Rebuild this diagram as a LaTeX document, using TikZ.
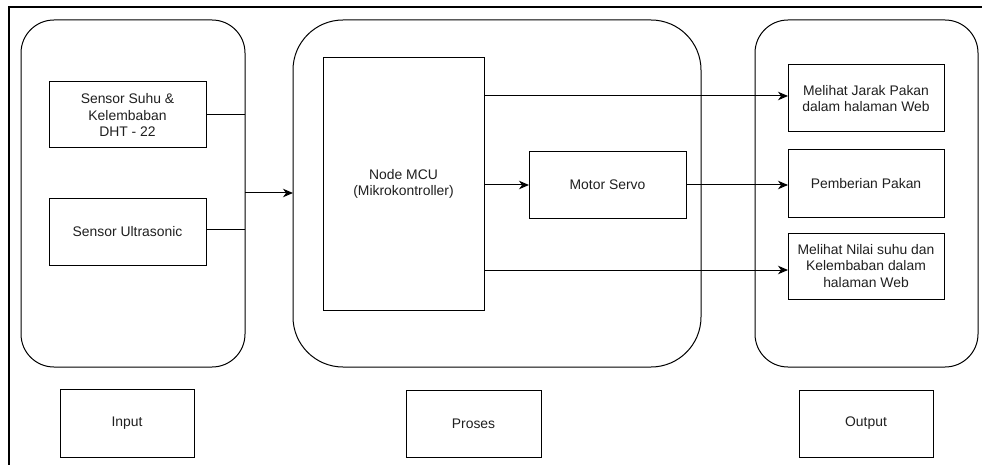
\documentclass[tikz,border=0pt]{standalone}
\usepackage{fontspec}
\setmainfont{Liberation Sans}
\usetikzlibrary{arrows.meta}
\tikzset{
  box/.style={draw=black, line width=1pt, inner sep=0pt, outer sep=0pt, align=center,
    font=\fontsize{13.9}{16.2}\selectfont, text=black!88},
  group/.style={draw=black, line width=1pt, inner sep=0pt, outer sep=0pt},
  link/.style={line width=1pt},
  flow/.style={line width=1pt, -{Stealth[length=10pt,width=8.5pt,inset=3pt]}},
}
\begin{document}
\begin{tikzpicture}[x=1pt,y=-1pt]
  \useasboundingbox (0,0) rectangle (982,465);
  % page frame: top and left rule
  \draw[line width=2pt] (982,7) -- (9,7) -- (9,465);

  % group containers
  \node[group, rounded corners=33pt, minimum width=224pt, minimum height=347pt] (ingrp) at (133,193.5) {};
  \node[group, rounded corners=50pt, minimum width=408pt, minimum height=347pt] (progrp) at (497,193.5) {};
  \node[group, rounded corners=33pt, minimum width=223pt, minimum height=347pt] (outgrp) at (866.5,193.5) {};

  % input blocks
  \node[box, minimum width=157pt, minimum height=66pt] (suhu) at (127.5,115) {Sensor Suhu \&\\Kelembaban\\DHT - 22};
  \node[box, minimum width=157pt, minimum height=66pt] (ultra) at (127.5,232) {Sensor Ultrasonic};

  % processing blocks
  \node[box, minimum width=161pt, minimum height=252pt] (mcu) at (403.5,184) {Node MCU\\(Mikrokontroller)};
  \node[box, minimum width=157pt, minimum height=66pt] (servo) at (607.5,185) {Motor Servo};

  % output blocks
  \node[box, minimum width=156pt, minimum height=67pt] (jarak) at (866,98.5) {Melihat Jarak Pakan\\dalam halaman Web};
  \node[box, minimum width=156pt, minimum height=67pt] (pakan) at (866,183.5) {Pemberian Pakan};
  \node[box, minimum width=156pt, minimum height=66pt] (nilai) at (866,266) {Melihat Nilai suhu dan\\Kelembaban dalam\\halaman Web};

  % section captions
  \node[box, minimum width=134pt, minimum height=68pt] (capin) at (127,423) {Input};
  \node[box, minimum width=135pt, minimum height=67pt] (cappro) at (473.5,423.5) {Proses};
  \node[box, minimum width=134pt, minimum height=67pt] (capout) at (866,423.5) {Output};

  % connectors
  \coordinate (mcuA) at ([yshift=-86pt]mcu.east);
  \coordinate (mcuC) at ([yshift=88pt]mcu.east);
  \coordinate (inout) at (ingrp.east |- 0,193);
  \draw[link] (suhu.east) -- (suhu.east -| ingrp.east);
  \draw[link] (ultra.east |- 0,229) -- (ingrp.east |- 0,229);
  \draw[flow] (inout) -- (inout -| progrp.west);
  \draw[flow] (mcuA) -- (mcuA -| jarak.west);
  \draw[flow] (mcu.east |- servo.west) -- (servo.west);
  \draw[flow] (servo.east) -- (servo.east -| pakan.west);
  \draw[flow] (mcuC) -- (mcuC -| nilai.west);
\end{tikzpicture}
\end{document}
